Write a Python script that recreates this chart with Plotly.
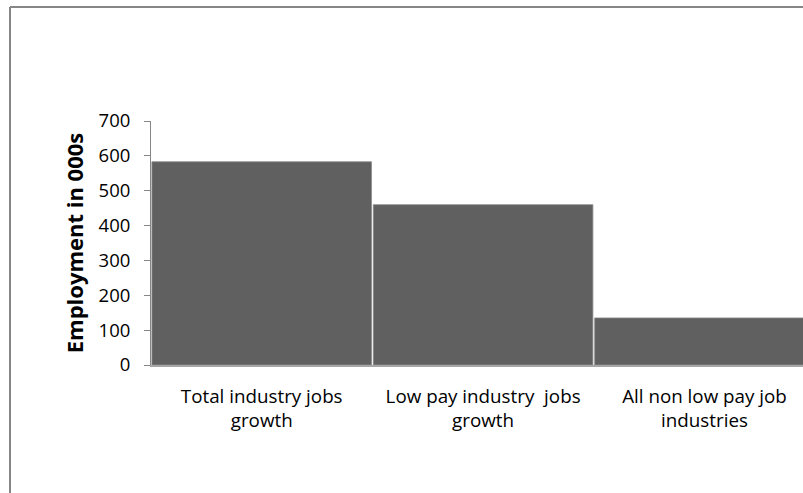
import plotly.graph_objects as go

categories = ["Total industry jobs<br>growth", "Low pay industry  jobs<br>growth", "All non low pay job<br>industries"]
employment = [583, 460, 135]
y_ticks = [0, 100, 200, 300, 400, 500, 600, 700]

fig = go.Figure()
fig.add_trace(go.Bar(
    x=categories, y=employment,
    marker=dict(color="#606060", line=dict(color="#8c8c8c", width=0.8)),
    hoverinfo="skip",
))

W, H = 803, 493
L, R, T, B = 151, 0, 121, 128
pw, ph = W - L - R, H - T - B

fig.update_layout(
    width=W, height=H,
    margin=dict(l=L, r=R, t=T, b=B, pad=0),
    paper_bgcolor="white", plot_bgcolor="white",
    bargap=0.008,
    showlegend=False,
    font=dict(family="Open Sans, Liberation Sans, sans-serif", size=18, color="#000000"),
    xaxis=dict(
        range=[-0.5, 2.445], showgrid=False, zeroline=False,
        showline=True, linecolor="#a6a6a6", linewidth=2,
        ticks="", tickfont=dict(size=18.8), ticklabelstandoff=13,
        fixedrange=True,
    ),
    yaxis=dict(
        range=[0, 700], tickvals=y_ticks, showgrid=False, zeroline=False,
        showline=True, linecolor="#868686", linewidth=1,
        ticks="outside", ticklen=6, tickcolor="#868686",
        tickfont=dict(size=18.5), ticklabelstandoff=10,
        title=dict(text="<b>Employment in 000s</b>", font=dict(size=22), standoff=8),
        fixedrange=True,
    ),
    shapes=[
        dict(type="line", xref="paper", yref="paper",
             x0=(10 - L) / pw, x1=1.2, y0=(H - B - 7) / ph, y1=(H - B - 7) / ph,
             line=dict(color="#868686", width=2)),
        dict(type="line", xref="paper", yref="paper",
             x0=(10 - L) / pw, x1=(10 - L) / pw, y0=(H - B - 7) / ph, y1=-1.0,
             line=dict(color="#868686", width=2)),
    ],
)

fig.write_html(
    "out.html",
    config={"displayModeBar": False},
    post_script="document.body.style.margin='0px';document.body.style.overflow='hidden';",
)
